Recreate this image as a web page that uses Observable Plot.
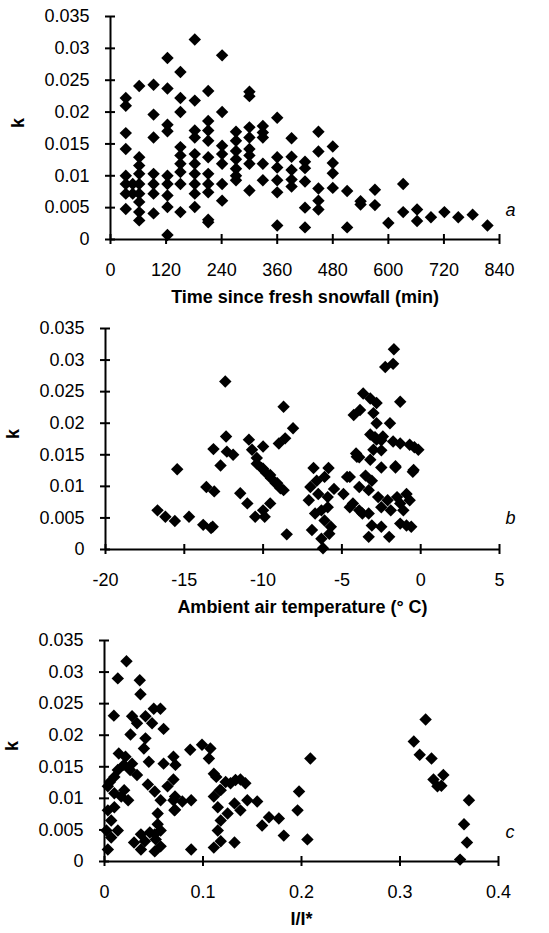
<!DOCTYPE html>
<html><head><meta charset="utf-8">
<script src="https://cdn.jsdelivr.net/npm/d3@7"></script>
<script src="https://cdn.jsdelivr.net/npm/@observablehq/plot@0.6"></script>
<style>
html,body{margin:0;padding:0;background:#fff;}
#chart{width:549px;}
.panel{position:relative;width:549px;}
.panel svg{display:block;position:absolute;left:0;top:0;}
</style></head><body><div id="chart"></div>
<script>
const kTicks = [0, 0.005, 0.01, 0.015, 0.02, 0.025, 0.03, 0.035];
const timeTicks = [0, 120, 240, 360, 480, 600, 720, 840];
const tempTicks = [-20, -15, -10, -5, 0, 5];
const ratioTicks = [0, 0.1, 0.2, 0.3, 0.4];
const labels = ["Time since fresh snowfall (min)", "Ambient air temperature (° C)", "I/I*"];
const yLabel = "k";
const letters = ["a", "b", "c"];

// panel a: [time (min), k]
const timeData = [
[33,0.0222],[33,0.021],[33,0.0167],[33,0.0142],[33,0.01],[33,0.0087],[33,0.0072],[33,0.0048],
[48,0.0087],[48,0.0072],
[62,0.0241],[62,0.0129],[62,0.0116],[62,0.0103],[62,0.0087],[62,0.0072],[62,0.0059],[62,0.0043],[62,0.003],
[93,0.0243],[93,0.0196],[93,0.016],[93,0.0103],[93,0.0087],[93,0.0072],[93,0.0041],
[123,0.0285],[123,0.0237],[123,0.018],[123,0.017],[123,0.01],[123,0.0087],[123,0.0069],[123,0.0051],[123,0.0007],
[151,0.0263],[151,0.0222],[151,0.02],[151,0.0145],[151,0.0132],[151,0.0119],[151,0.0106],[151,0.0087],[151,0.0043],
[182,0.0314],[182,0.0218],[182,0.0171],[182,0.016],[182,0.0134],[182,0.0119],[182,0.0103],[182,0.0087],[182,0.0072],[182,0.0051],
[211,0.0233],[211,0.0186],[211,0.0171],[211,0.0155],[211,0.0129],[211,0.0103],[211,0.0087],[211,0.0074],[211,0.0031],[211,0.0027],
[241,0.0289],[241,0.02],[241,0.0147],[241,0.0134],[241,0.0119],[241,0.0087],[241,0.0061],
[271,0.0169],[271,0.0155],[271,0.0139],[271,0.0126],[271,0.0111],[271,0.01],[271,0.0093],
[300,0.0232],[300,0.0225],[300,0.0176],[300,0.016],[300,0.0142],[300,0.0132],[300,0.0119],[300,0.0077],
[329,0.0178],[329,0.0168],[329,0.016],[329,0.0119],[329,0.0093],
[360,0.0191],[360,0.0129],[360,0.0113],[360,0.0093],[360,0.0074],[360,0.0022],
[391,0.0159],[391,0.013],[391,0.0109],[391,0.0094],[391,0.0083],
[420,0.0122],[420,0.0112],[420,0.0091],[420,0.005],[420,0.0019],
[449,0.0169],[449,0.0138],[449,0.008],[449,0.0061],[449,0.0047],
[480,0.0146],[480,0.012],[480,0.0104],[480,0.0081],
[511,0.0076],[511,0.0019],
[540,0.006],[540,0.0055],
[571,0.0078],[571,0.0054],
[600,0.0026],
[632,0.0087],[632,0.0043],
[662,0.0047],[662,0.0029],
[692,0.0035],[721,0.0043],[751,0.0035],[782,0.0039],[814,0.0022]
];

// panel b: [temperature (°C), k]
const tempData = [
[-16.7,0.0062],[-16.2,0.0052],[-15.6,0.0045],[-14.7,0.0052],[-15.45,0.0127],
[-13.8,0.0039],[-13.3,0.0034],[-13.2,0.0036],[-13.6,0.0099],[-13.1,0.0092],
[-12.4,0.0266],[-12.35,0.0179],[-13.15,0.0159],[-11.9,0.015],[-12.7,0.0133],[-12.3,0.0155],
[-11.45,0.0089],[-11.0,0.0073],[-10.5,0.0052],[-10.0,0.0062],[-9.55,0.0073],[-9.9,0.0052],
[-8.5,0.0024],
[-10.9,0.0174],[-10.4,0.0145],[-10.0,0.0163],[-9.0,0.0168],[-8.6,0.0176],[-8.7,0.0226],[-8.1,0.0192],
[-10.7,0.0158],[-10.4,0.0136],[-10.1,0.0129],[-9.8,0.0121],[-9.5,0.0113],[-9.2,0.0105],[-8.9,0.0097],
[-10.0,0.0128],[-9.55,0.0118],[-9.1,0.0105],[-8.7,0.0094],
[-1.7,0.0317],[-2.25,0.0289],[-1.75,0.0294],[-1.3,0.0234],
[-3.65,0.0247],[-3.2,0.0239],[-2.8,0.0232],[-4.25,0.0213],[-3.85,0.0221],[-3.0,0.0216],[-2.8,0.02],[-1.95,0.02],
[-3.2,0.0182],[-2.8,0.0174],[-2.4,0.0179],[-1.75,0.0171],[-1.3,0.0168],[-0.7,0.0166],[-0.15,0.0158],[-0.4,0.0162],
[-4.05,0.0147],[-3.0,0.0158],[-3.2,0.0142],[-1.6,0.0132],[-0.45,0.0126],
[-2.9,0.0178],[-2.5,0.0173],[-2.5,0.0157],[-4.1,0.0152],
[-6.8,0.0129],[-5.85,0.0129],
[-7.0,0.0099],[-6.6,0.0109],[-6.1,0.0115],[-7.1,0.0078],[-6.5,0.0088],[-5.9,0.0083],[-5.5,0.0096],
[-6.7,0.0057],[-6.3,0.0062],[-6.1,0.0046],[-5.7,0.0036],[-5.9,0.0067],[-6.9,0.0031],[-6.2,0.0002],
[-6.3,0.0017],[-5.8,0.0025],
[-4.5,0.0115],[-4.67,0.0115],[-4.9,0.0088],[-4.3,0.0073],[-3.7,0.0057],[-3.1,0.0038],[-3.3,0.002],
[-3.9,0.0146],[-3.5,0.0117],[-3.1,0.0109],[-2.5,0.013],[-1.6,0.013],[-0.5,0.0123],
[-3.9,0.0099],[-3.3,0.0094],[-2.7,0.0083],[-2.1,0.0078],[-1.5,0.0083],[-0.9,0.0088],[-0.7,0.0078],
[-4.5,0.0067],[-3.9,0.0062],[-3.3,0.0057],[-2.5,0.0067],[-1.9,0.0062],[-1.3,0.0073],[-1.1,0.0062],
[-2.5,0.0036],[-2.0,0.002],[-1.3,0.0041],[-0.9,0.0038],[-0.6,0.0036]
];

// panel c: [I/I*, k]
const ratioData = [
[0.0223,0.0317],[0.0135,0.029],[0.0358,0.0287],[0.0365,0.0265],[0.0095,0.0231],
[0.028,0.023],[0.033,0.0219],[0.0416,0.023],[0.05,0.0242],[0.0568,0.0242],[0.0483,0.0219],[0.06,0.021],
[0.0264,0.0201],[0.0416,0.0195],[0.04,0.0179],
[0.0145,0.0171],[0.0213,0.0166],[0.028,0.0155],[0.0196,0.0153],[0.045,0.0158],
[0.06,0.0155],[0.07,0.0166],[0.072,0.0153],[0.087,0.0177],[0.099,0.0185],[0.1075,0.0179],[0.106,0.0163],[0.111,0.0139],
[0.209,0.0163],
[0.314,0.019],[0.326,0.0225],[0.32,0.0169],[0.332,0.0163],[0.344,0.0137],
[0.334,0.013],[0.338,0.0119],[0.342,0.012],[0.37,0.0097],[0.365,0.0059],[0.368,0.003],[0.361,0.0003],
[0.1975,0.0111],[0.196,0.0081],[0.206,0.0035],[0.182,0.0041],[0.16,0.0057],[0.167,0.007],[0.177,0.0068],[0.088,0.0019],
[0.111,0.0103],[0.118,0.0113],[0.128,0.0124],[0.138,0.013],[0.145,0.0097],[0.132,0.0092],[0.115,0.0086],
[0.118,0.0065],[0.115,0.0049],[0.118,0.0032],[0.111,0.0022],[0.132,0.003],[0.125,0.0076],[0.138,0.0081],[0.155,0.0095],
[0.1135,0.0134],[0.123,0.0126],[0.133,0.0129],[0.143,0.0124],[0.117,0.0113],
[0.044,0.0122],[0.051,0.0111],[0.057,0.0097],[0.064,0.0119],[0.07,0.013],[0.07,0.0097],[0.079,0.0095],[0.071,0.0081],
[0.054,0.0076],[0.054,0.0059],[0.051,0.0043],[0.037,0.0043],[0.041,0.0032],[0.037,0.0019],[0.046,0.0046],
[0.052,0.0035],[0.057,0.0049],[0.051,0.0016],[0.057,0.0024],[0.03,0.003],
[0.0034,0.0119],[0.01,0.0108],[0.017,0.0103],[0.024,0.0097],[0.0034,0.0081],[0.0068,0.0065],[0.0135,0.0049],
[0.0068,0.0038],[0.0034,0.0019],[0.002,0.0049],[0.01,0.0086],
[0.0055,0.0126],[0.01,0.0134],[0.0135,0.0145],[0.026,0.0145],[0.033,0.0137],[0.02,0.0113],
[0.0716,0.0103],[0.088,0.0097],[0.0716,0.0082]
];

const FONT = '"Liberation Sans", Arial, Helvetica, sans-serif';

function panel({data, xDomain, xTicks, xLabel, letter, height, mt, mb, ml, mr, letterDy}) {
  const common = {
    width: 549, height,
    marginTop: mt, marginBottom: mb, marginLeft: ml, marginRight: mr,
    x: {domain: xDomain},
    y: {domain: [kTicks[0], kTicks[kTicks.length - 1]]}
  };
  const dots = Plot.plot({...common,
    style: {fontFamily: FONT, fontSize: "18px"},
    x: {domain: xDomain, axis: null}, y: {...common.y, axis: null},
    marks: [Plot.dot(data, {x: d => d[0], y: d => d[1], symbol: "diamond2", r: 5.6, fill: "black"})]
  });
  const axes = Plot.plot({...common,
    style: {fontFamily: FONT, fontSize: "18px", background: "transparent"},
    marks: [
      Plot.ruleX([xDomain[0]], {strokeWidth: 2, stroke: "black"}),
      Plot.ruleY([kTicks[0]], {strokeWidth: 2, stroke: "black"}),
      Plot.axisY({ticks: kTicks, tickSize: 10, insetLeft: 5, tickPadding: 16, strokeWidth: 2, stroke: "black", tickFormat: d => String(d), label: null}),
      Plot.axisX({ticks: xTicks, tickSize: 10, insetBottom: 5, tickPadding: 19, strokeWidth: 2, stroke: "black", tickFormat: d => String(d), label: null}),
      Plot.text([xLabel], {text: d => d, frameAnchor: "bottom", dy: 58, lineAnchor: "middle", fontWeight: "bold", fontSize: 18}),
      Plot.text([yLabel], {text: d => d, frameAnchor: "left", dx: -92, rotate: -90, fontWeight: "bold", fontSize: 18}),
      Plot.text([letter], {text: d => d, frameAnchor: "bottom-right", dx: 16, dy: letterDy, fontStyle: "italic", fontSize: 18})
    ]
  });
  const wrap = document.createElement("div");
  wrap.className = "panel";
  wrap.style.height = height + "px";
  wrap.append(dots, axes);
  return wrap;
}

const chart = document.getElementById("chart");
chart.append(panel({data: timeData, xDomain: [0, 840], xTicks: timeTicks, xLabel: labels[0], letter: letters[0],
  height: 310, mt: 16, mb: 71, ml: 110, mr: 50, letterDy: -24}));
chart.append(panel({data: tempData, xDomain: [-20, 5], xTicks: tempTicks, xLabel: labels[1], letter: letters[1],
  height: 310, mt: 18, mb: 71, ml: 105, mr: 50, letterDy: -26}));
chart.append(panel({data: ratioData, xDomain: [0, 0.4], xTicks: ratioTicks, xLabel: labels[2], letter: letters[2],
  height: 313, mt: 20, mb: 72, ml: 104, mr: 51, letterDy: -24}));
</script></body></html>
